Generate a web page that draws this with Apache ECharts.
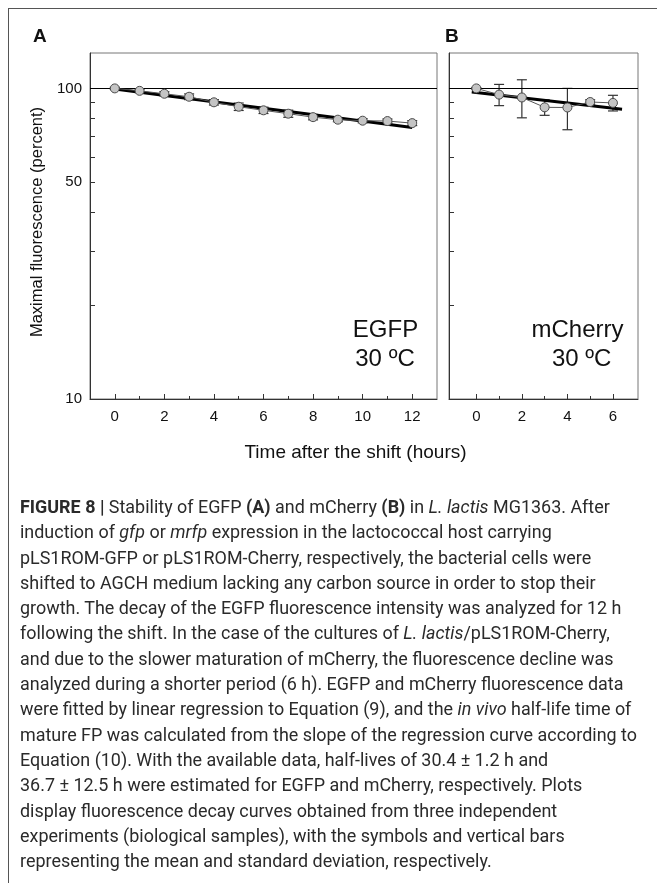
<!DOCTYPE html>
<html>
<head>
<meta charset="utf-8">
<script src="https://cdn.jsdelivr.net/npm/echarts@6/dist/echarts.min.js"></script>
<style>
html,body{margin:0;padding:0;background:#fff;}
#wrap{position:relative;width:657px;height:883px;overflow:hidden;}
#chart{position:absolute;left:0;top:0;width:657px;height:883px;}
#frame{position:absolute;left:8px;top:8px;width:700px;height:900px;border-top:1px solid #555;border-left:1px solid #555;}
#caption{position:absolute;left:20px;top:494px;font-family:'Roboto',sans-serif;font-size:18px;color:#2a2a2a;line-height:25.3px;transform-origin:0 0;white-space:nowrap;}
#caption div{height:25.3px;}
</style>
</head>
<body>
<div id="wrap">
  <div id="frame"></div>
  <div id="chart"></div>
  <div id="caption">
    <div><span><b>FIGURE 8 |</b> Stability of EGFP <b>(A)</b> and mCherry <b>(B)</b> in <i>L. lactis</i> MG1363. After</span></div>
    <div><span>induction of <i>gfp</i> or <i>mrfp</i> expression in the lactococcal host carrying</span></div>
    <div><span>pLS1ROM-GFP or pLS1ROM-Cherry, respectively, the bacterial cells were</span></div>
    <div><span>shifted to AGCH medium lacking any carbon source in order to stop their</span></div>
    <div><span>growth. The decay of the EGFP fluorescence intensity was analyzed for 12 h</span></div>
    <div><span>following the shift. In the case of the cultures of <i>L. lactis</i>/pLS1ROM-Cherry,</span></div>
    <div><span>and due to the slower maturation of mCherry, the fluorescence decline was</span></div>
    <div><span>analyzed during a shorter period (6 h). EGFP and mCherry fluorescence data</span></div>
    <div><span>were fitted by linear regression to Equation (9), and the <i>in vivo</i> half-life time of</span></div>
    <div><span id="refLine">mature FP was calculated from the slope of the regression curve according to</span></div>
    <div><span>Equation (10). With the available data, half-lives of 30.4 ± 1.2 h and</span></div>
    <div><span>36.7 ± 12.5 h were estimated for EGFP and mCherry, respectively. Plots</span></div>
    <div><span>display fluorescence decay curves obtained from three independent</span></div>
    <div><span>experiments (biological samples), with the symbols and vertical bars</span></div>
    <div><span>representing the mean and standard deviation, respectively.</span></div>
  </div>
</div>
<script>
// ---- data ----
const egfpHours = [0, 1, 2, 3, 4, 5, 6, 7, 8, 9, 10, 11, 12];
const egfpMean = [100, 98.2, 96.1, 94.0, 90.2, 87.3, 85.0, 82.9, 80.8, 79.3, 78.7, 78.5, 77.3];
const egfpSd = [0.8, 1.2, 1.5, 2.0, 1.8, 2.4, 2.0, 2.2, 1.6, 1.2, 1.2, 1.2, 1.4];
const egfpFitHours = [0, 12];
const egfpFitValues = [99.5, 74.8];

const cherryHours = [0, 1, 2, 3, 4, 5, 6];
const cherryMean = [100, 95.5, 93.5, 86.9, 86.8, 90.4, 89.8];
const cherrySd = [0.6, 7.5, 13.1, 5.0, 13.2, 1.5, 5.2];
const cherryFitHours = [-0.2, 6.4];
const cherryFitValues = [97.4, 85.7];

const yTickValues = [20, 30, 40, 50, 60, 70, 80, 90, 100];
const yLabelValues = [10, 50, 100];
const egfpMajorTicks = [0, 2, 4, 6, 8, 10, 12];
const egfpMinorTicks = [1, 3, 5, 7, 9, 11];
const cherryMajorTicks = [0, 2, 4, 6];
const cherryMinorTicks = [1, 3, 5];
const referenceLevel = 100;

// ---- helpers ----
const FONT = "'Liberation Sans', Arial, sans-serif";
const AX = '#333';

function pairs(xs, ys) { return xs.map((x, i) => [x, ys[i]]); }
function errRows(xs, m, s) { return xs.map((x, i) => [x, m[i] - s[i], m[i] + s[i]]); }

function errorItem(params, api) {
  const x = api.value(0), lo = api.value(1), hi = api.value(2);
  const p1 = api.coord([x, hi]), p2 = api.coord([x, lo]);
  const w = 5;
  const st = { stroke: '#333', lineWidth: 1.2, fill: null };
  return {
    type: 'group', children: [
      { type: 'line', shape: { x1: p1[0], y1: p1[1], x2: p2[0], y2: p2[1] }, style: st },
      { type: 'line', shape: { x1: p1[0] - w, y1: p1[1], x2: p1[0] + w, y2: p1[1] }, style: st },
      { type: 'line', shape: { x1: p2[0] - w, y1: p2[1], x2: p2[0] + w, y2: p2[1] }, style: st }
    ]
  };
}

function yAxisCfg(gridIndex, showLabels) {
  return {
    type: 'log', logBase: 10, gridIndex: gridIndex, min: 10, max: 130, position: 'left',
    axisLine: { show: true, onZero: false, lineStyle: { color: AX, width: 1 } },
    axisTick: { show: true, inside: true, length: 5, customValues: yTickValues, lineStyle: { color: AX } },
    axisLabel: { show: showLabels, customValues: yLabelValues, margin: 8, fontSize: 15, color: '#111', fontFamily: FONT },
    splitLine: { show: false }, minorTick: { show: false }
  };
}
function xMain(gridIndex, min, max, ticks) {
  return {
    type: 'value', gridIndex: gridIndex, min: min, max: max, position: 'bottom',
    axisLine: { show: true, onZero: false, lineStyle: { color: AX, width: 1 } },
    axisTick: { show: true, inside: true, length: 5, customValues: ticks, lineStyle: { color: AX } },
    axisLabel: { customValues: ticks, margin: 10, fontSize: 15, color: '#111', fontFamily: FONT },
    splitLine: { show: false }
  };
}
function xMinor(gridIndex, min, max, ticks) {
  return {
    type: 'value', gridIndex: gridIndex, min: min, max: max, position: 'bottom',
    axisLine: { show: false, onZero: false },
    axisTick: { show: true, inside: true, length: 3, customValues: ticks, lineStyle: { color: AX } },
    axisLabel: { show: false },
    splitLine: { show: false }
  };
}

function panelSeries(xi, yi, hours, mean, sd, fitH, fitV) {
  return [
    {
      type: 'custom', xAxisIndex: xi, yAxisIndex: yi, renderItem: errorItem,
      data: errRows(hours, mean, sd), encode: { x: 0, y: [1, 2] }, z: 3, silent: true
    },
    {
      type: 'line', xAxisIndex: xi, yAxisIndex: yi, data: pairs(fitH, fitV),
      symbol: 'none', lineStyle: { color: '#000', width: 3 }, z: 4, silent: true,
      markLine: {
        silent: true, symbol: 'none', label: { show: false },
        lineStyle: { color: '#000', width: 1, type: 'solid' },
        data: [{ yAxis: referenceLevel }]
      }
    },
    {
      type: 'line', xAxisIndex: xi, yAxisIndex: yi, data: pairs(hours, mean),
      symbol: 'circle', symbolSize: 9,
      itemStyle: { color: '#c4c4c4', borderColor: '#4a4a4a', borderWidth: 1 },
      lineStyle: { color: '#555', width: 1 }, z: 5, silent: true
    }
  ];
}

const chart = echarts.init(document.getElementById('chart'), null, { renderer: 'canvas' });
chart.setOption({
  animation: false,
  backgroundColor: 'transparent',
  grid: [
    { left: 90, top: 53, width: 347, height: 346, show: true, borderColor: '#777', borderWidth: 1, backgroundColor: 'transparent' },
    { left: 449, top: 53, width: 189, height: 346, show: true, borderColor: '#777', borderWidth: 1, backgroundColor: 'transparent' }
  ],
  xAxis: [
    xMain(0, -1, 13, egfpMajorTicks),
    xMinor(0, -1, 13, egfpMinorTicks),
    xMain(1, -1.2, 7.1, cherryMajorTicks),
    xMinor(1, -1.2, 7.1, cherryMinorTicks)
  ],
  yAxis: [yAxisCfg(0, true), yAxisCfg(1, false)],
  series: [].concat(
    panelSeries(0, 0, egfpHours, egfpMean, egfpSd, egfpFitHours, egfpFitValues),
    panelSeries(2, 1, cherryHours, cherryMean, cherrySd, cherryFitHours, cherryFitValues)
  ),
  graphic: [
    { type: 'text', x: 33, y: 37, style: { text: 'A', font: "bold 19px " + FONT, fill: '#111', align: 'left', verticalAlign: 'middle' } },
    { type: 'text', x: 445, y: 37, style: { text: 'B', font: "bold 19px " + FONT, fill: '#111', align: 'left', verticalAlign: 'middle' } },
    { type: 'text', x: 385.5, y: 330, style: { text: 'EGFP', font: "24px " + FONT, fill: '#111', align: 'center', verticalAlign: 'middle' } },
    { type: 'text', x: 385, y: 359, style: { text: '30 ºC', font: "24px " + FONT, fill: '#111', align: 'center', verticalAlign: 'middle' } },
    { type: 'text', x: 577.5, y: 330, style: { text: 'mCherry', font: "24px " + FONT, fill: '#111', align: 'center', verticalAlign: 'middle' } },
    { type: 'text', x: 581.7, y: 359, style: { text: '30 ºC', font: "24px " + FONT, fill: '#111', align: 'center', verticalAlign: 'middle' } },
    { type: 'text', x: 355.5, y: 453, style: { text: 'Time after the shift (hours)', font: "19px " + FONT, fill: '#111', align: 'center', verticalAlign: 'middle' } },
    { type: 'text', x: 37, y: 222, rotation: Math.PI / 2, style: { text: 'Maximal fluorescence (percent)', font: "16.5px " + FONT, fill: '#111', align: 'center', verticalAlign: 'middle' } }
  ]
});

// fit the caption block width to the reference text measure
(function () {
  const ref = document.getElementById('refLine');
  const w = ref.getBoundingClientRect().width;
  if (w > 0) {
    document.getElementById('caption').style.transform = 'scaleX(' + (617 / w) + ')';
  }
})();
</script>
</body>
</html>
